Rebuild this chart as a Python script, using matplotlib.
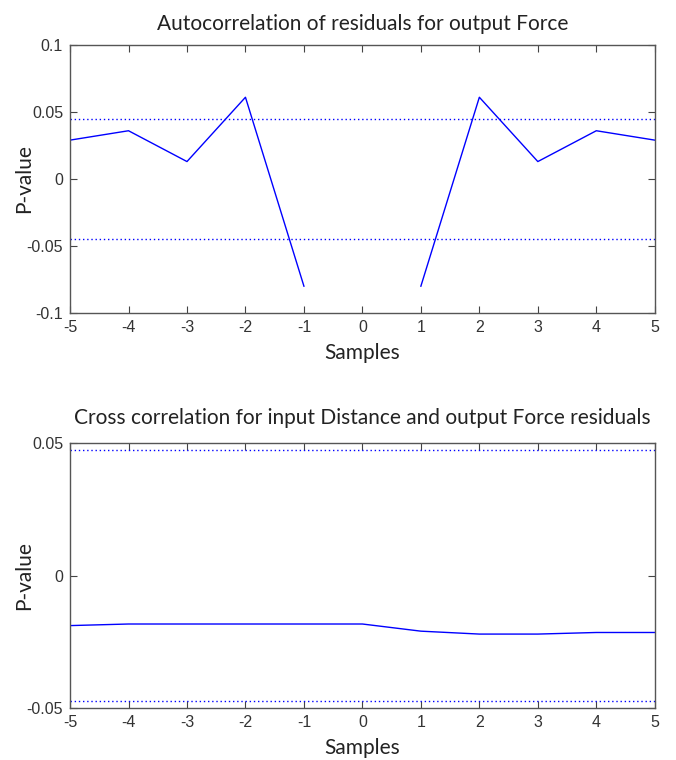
import numpy as np
import matplotlib
matplotlib.use("Agg")
import matplotlib.pyplot as plt

# Data
lags = [-5, -4, -3, -2, -1, 0, 1, 2, 3, 4, 5]
auto_vals = [0.029, 0.036, 0.013, 0.061, -0.080, np.nan, -0.080, 0.061, 0.013, 0.036, 0.029]
auto_conf = 0.0448
cross_vals = [-0.0189, -0.0183, -0.0183, -0.0183, -0.0183, -0.0183, -0.0210, -0.0221, -0.0221, -0.0215, -0.0215]
cross_conf = 0.0475
xticks = [-5, -4, -3, -2, -1, 0, 1, 2, 3, 4, 5]
auto_yticks = [-0.1, -0.05, 0, 0.05, 0.1]
auto_yticklabels = ["-0.1", "-0.05", "0", "0.05", "0.1"]
cross_yticks = [-0.05, 0, 0.05]
cross_yticklabels = ["-0.05", "0", "0.05"]

fig = plt.figure(figsize=(6.76, 7.6), dpi=100)
ax1 = fig.add_axes([0.1036, 0.5882, 0.865, 0.3526])
ax2 = fig.add_axes([0.1036, 0.0684, 0.865, 0.3487])

title_font = dict(family=["Lato", "DejaVu Sans"], size=15, color="#222222")
label_font = dict(family=["Lato", "DejaVu Sans"], size=15, color="#222222")
tick_family = "Liberation Sans"

def style(ax, yticks, ylabels, ylim):
    ax.set_xlim(-5, 5)
    ax.set_ylim(*ylim)
    ax.set_xticks(xticks)
    ax.set_xticklabels([str(t) for t in xticks])
    ax.set_yticks(yticks)
    ax.set_yticklabels(ylabels)
    ax.tick_params(direction="in", top=True, right=True, length=5, width=0.8,
                   colors="#444444", labelsize=11.5, pad=5)
    for lab in ax.get_xticklabels() + ax.get_yticklabels():
        lab.set_family(tick_family)
        lab.set_color("#333333")
    for sp in ax.spines.values():
        sp.set_color("#555555")
        sp.set_linewidth(1.0)
    ax.set_xlabel("Samples", labelpad=6, **label_font)
    ax.set_ylabel("P-value", **label_font)
    ax.yaxis.set_label_coords(-0.062, 0.5)

ax1.plot(lags, auto_vals, color="#0000ff", lw=1.0)
ax1.axhline(auto_conf, color="#0000ff", lw=1.0, ls=(0, (1, 2)))
ax1.axhline(-auto_conf, color="#0000ff", lw=1.0, ls=(0, (1, 2)))
style(ax1, auto_yticks, auto_yticklabels, (-0.1, 0.1))
ax1.set_title("Autocorrelation of residuals for output Force", pad=11, **title_font)

ax2.plot(lags, cross_vals, color="#0000ff", lw=1.0)
ax2.axhline(cross_conf, color="#0000ff", lw=1.0, ls=(0, (1, 2)))
ax2.axhline(-cross_conf, color="#0000ff", lw=1.0, ls=(0, (1, 2)))
style(ax2, cross_yticks, cross_yticklabels, (-0.05, 0.05))
ax2.set_title("Cross correlation for input Distance and output Force residuals", pad=14, **title_font)

fig.savefig("out.png", dpi=100)
